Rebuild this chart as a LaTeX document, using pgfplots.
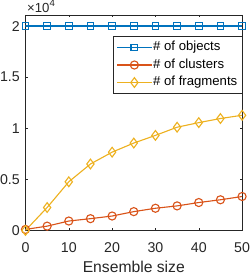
\documentclass[border=0pt]{standalone}
\usepackage{fontspec}
\setmainfont{Liberation Sans}
\usepackage{pgfplots}
\pgfplotsset{compat=1.18}
\definecolor{mblue}{HTML}{0072BD}
\definecolor{morange}{HTML}{D95319}
\definecolor{myellow}{HTML}{EDB120}
\definecolor{axgray}{gray}{0.15}
\begin{document}
\begin{tikzpicture}
\begin{axis}[
  name=ax,
  scale only axis,
  width=214pt, height=213pt,
  xmin=0, xmax=50, ymin=0, ymax=21100,
  xtick={0,10,...,50},
  ytick={0,5000,10000,15000,20000},
  yticklabels={0,0.5,1,1.5,2},
  scaled y ticks=false,
  tick align=inside,
  major tick length=2.5pt,
  axis line style={axgray, line width=0.5pt},
  tick style={axgray, line width=0.5pt},
  tick label style={font=\fontsize{14}{15}\selectfont, text=axgray, inner sep=0pt},
  xticklabel style={yshift=-11.5pt},
  yticklabel style={xshift=-5.5pt},
  /pgf/number format/assume math mode=true,
  xlabel={Ensemble size},
  xlabel style={at={(axis description cs:0.5,0)}, anchor=base, yshift=-41.5pt,
    font=\fontsize{15.5}{16}\selectfont, text=axgray, inner sep=0pt, text depth=5.5pt},
  legend style={at={(rel axis cs:1,0.9)}, anchor=north east, font=\fontsize{13}{14}\selectfont,
    draw=axgray, line width=0.5pt, inner sep=3.5pt, row sep=2.8pt, column sep=0pt,
    nodes={inner sep=1pt, text height=9.5pt, text depth=3pt},
    cells={anchor=west}},
  legend cell align=left,
  legend image code/.code={\draw[mark repeat=2, mark phase=2] plot coordinates {(0pt,0pt)(17pt,0pt)(34pt,0pt)};},
  every axis plot/.append style={line width=1.1pt},
]
\addplot[mblue, mark=square, mark size=3.3pt, mark options={line width=1.1pt}] coordinates {
(0,20000)(5,20000)(10,20000)(15,20000)(20,20000)(25,20000)(30,20000)(35,20000)(40,20000)(45,20000)(50,20000)};
\addplot[morange, mark=o, mark size=4pt, mark options={line width=1.1pt}] coordinates {
(0,100)(5,420)(10,920)(15,1150)(20,1410)(25,1840)(30,2170)(35,2400)(40,2730)(45,3000)(50,3320)};
\addplot[myellow, mark=diamond, mark size=4.8pt, mark options={line width=1.1pt}] coordinates {
(0,0)(5,2240)(10,4760)(15,6500)(20,7660)(25,8550)(30,9300)(35,10100)(40,10550)(45,10950)(50,11270)};
\legend{\# of objects, \# of clusters, \# of fragments\hspace{13pt}}
\end{axis}
\node[anchor=base west, inner sep=0pt, text=axgray, yshift=1.8pt, xshift=1.5pt] at (ax.north west)
  {\fontsize{13}{14}\selectfont ×10\raisebox{6.3pt}{\fontsize{9.5}{10}\selectfont 4}};
\end{tikzpicture}
\end{document}
